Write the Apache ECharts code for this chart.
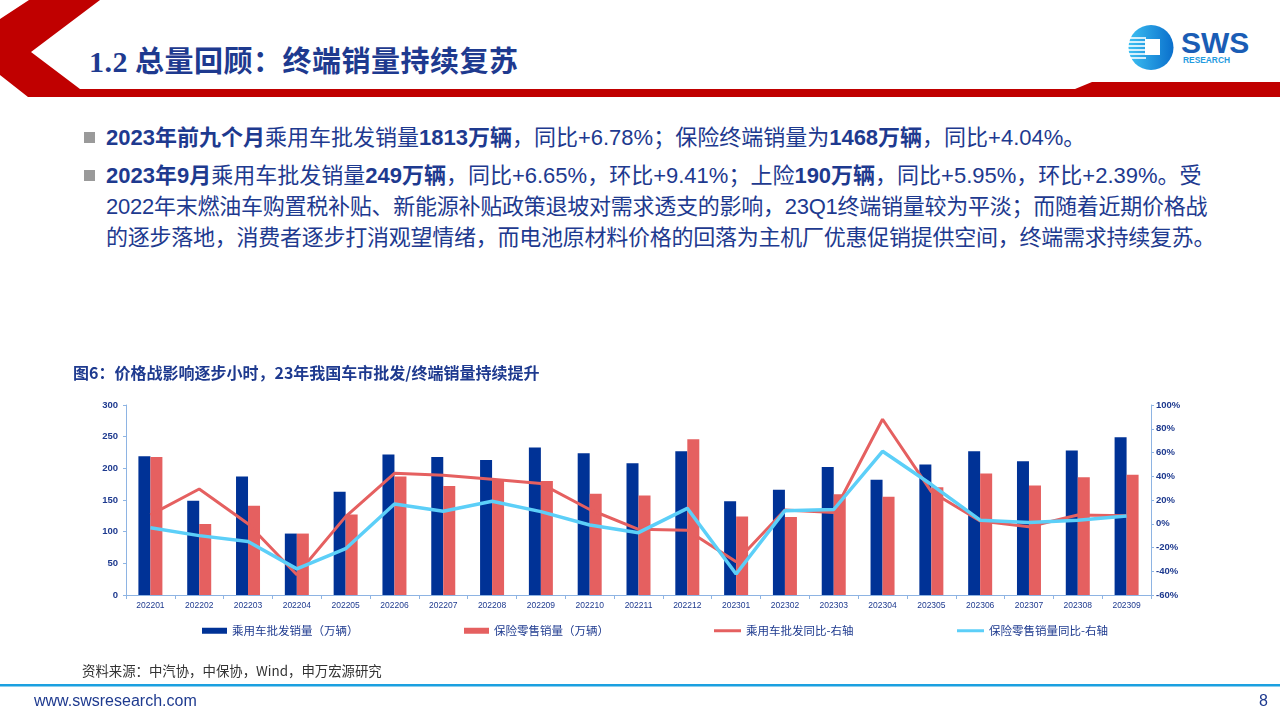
<!DOCTYPE html>
<html>
<head>
<meta charset="utf-8">
<script src="https://cdn.jsdelivr.net/npm/echarts@6/dist/echarts.min.js"></script>
<style>
  html, body { margin:0; padding:0; width:1280px; height:720px; overflow:hidden; background:#fff; }
  #deco { position:absolute; left:0; top:0; }
  #chart { position:absolute; left:0; top:0; width:1280px; height:720px; }
  .t { position:absolute; white-space:nowrap; color:#1e3a8f; font-family:"Noto Sans CJK SC","Noto Sans",sans-serif; }
  .title { left:89px; top:40px; font-size:29px; font-weight:bold; line-height:38px; letter-spacing:0.5px; }
  .title .num { font-family:"Liberation Serif","DejaVu Serif",serif; font-weight:bold; font-size:30px; }
  .p { left:106px; font-size:22px; line-height:31px; font-family:"Liberation Sans","Noto Sans CJK SC",sans-serif; }
  .p b { font-weight:bold; }
  .tight { letter-spacing:-0.25px; }
  .bullet { position:absolute; width:11px; height:11px; background:#9a9a9a; }
  .src { left:82px; top:660px; font-size:13.4px; line-height:20px; color:#333; }
  .url { left:34px; top:691px; font-size:16px; line-height:20px; font-family:"Liberation Sans",Arial,sans-serif; }
  .page { left:1259px; top:691px; font-size:16px; line-height:20px; font-family:"Liberation Sans",Arial,sans-serif; }
</style>
</head>
<body>
<svg id="deco" width="1280" height="720" xmlns="http://www.w3.org/2000/svg">
  <defs>
    <linearGradient id="lg" x1="0" y1="0" x2="1" y2="0">
      <stop offset="0" stop-color="#3cc0f2"/>
      <stop offset="1" stop-color="#0a6fcc"/>
    </linearGradient>
  </defs>
  <polygon fill="#c00000" points="29,0 100,0 31,52 80,89 1075,89 1092,82 1280,82 1280,97 28,97 0,75 0,19"/>
  <circle cx="1151" cy="47.5" r="22.5" fill="url(#lg)"/>
  <g stroke="#ffffff" stroke-width="1.6">
    <line x1="1128" y1="38" x2="1146" y2="38"/>
    <line x1="1128" y1="42" x2="1146" y2="42"/>
    <line x1="1128" y1="46" x2="1146" y2="46"/>
    <line x1="1128" y1="50" x2="1146" y2="50"/>
    <line x1="1128" y1="54" x2="1146" y2="54"/>
    <line x1="1130" y1="58" x2="1146" y2="58"/>
  </g>
  <rect x="1145" y="39" width="15" height="16" fill="#ffffff"/>
  <text x="1181" y="53" font-family="Liberation Sans, Arial, sans-serif" font-weight="bold" font-size="30" fill="#1a5db5">SWS</text>
  <text x="1183" y="63" font-family="Liberation Sans, Arial, sans-serif" font-weight="bold" font-size="8.4" fill="#1f9be0">RESEARCH</text>
  <rect x="0" y="684" width="1280" height="2.5" fill="#1ba0e0"/>
</svg>

<div class="t title"><span class="num">1.2</span> 总量回顾：终端销量持续复苏</div>

<div class="bullet" style="left:84px;top:132px;"></div>
<div class="t p" style="top:122px;"><b>2023年前九个月</b>乘用车批发销量<b>1813万辆</b>，同比+6.78%；保险终端销量为<b>1468万辆</b>，同比+4.04%。</div>
<div class="bullet" style="left:84px;top:170px;"></div>
<div class="t p" style="top:160px;"><b>2023年9月</b>乘用车批发销量<b>249万辆</b>，同比+6.65%，环比+9.41%；上险<b>190万辆</b>，同比+5.95%，环比+2.39%。受</div>
<div class="t p tight" style="top:191px;">2022年末燃油车购置税补贴、新能源补贴政策退坡对需求透支的影响，23Q1终端销量较为平淡；而随着近期价格战</div>
<div class="t p tight" style="top:222px;">的逐步落地，消费者逐步打消观望情绪，而电池原材料价格的回落为主机厂优惠促销提供空间，终端需求持续复苏。</div>

<div id="chart"></div>

<div class="t src">资料来源：中汽协，中保协，Wind，申万宏源研究</div>
<div class="t url">www.swsresearch.com</div>
<div class="t page">8</div>

<script>
// ---- data ----
const categories = ['202201','202202','202203','202204','202205','202206','202207','202208','202209','202210','202211','202212','202301','202302','202303','202304','202305','202306','202307','202308','202309'];
const wholesale = [219,149,187,97,163,222,218,213,233,224,208,227,148,166,202,182,206,227,211,228,249];
const insured   = [218,112,141,97,127,187,172,183,180,160,157,246,124,123,159,155,170,192,173,186,190];
const wholesaleYoY = [7.5,29.3,0,-43,6,42.5,40.8,37.4,33.8,12,-4.7,-5.5,-32,11.5,9.5,88,27,2.3,-2.5,7.4,6.7];
const insuredYoY   = [-3.3,-10,-15,-38,-21,16.6,10.5,19,10.2,-1,-7.5,13,-42.3,11,12,61,33,3,1,3,6.5];
const seriesNames = ['乘用车批发销量（万辆）','保险零售销量（万辆）','乘用车批发同比-右轴','保险零售销量同比-右轴'];
const chartTitle = '图6：价格战影响逐步小时，23年我国车市批发/终端销量持续提升';

const C_BLUE = '#003296', C_RED = '#e56060', C_CYAN = '#5ccff8', C_TXT = '#1e3a8f', C_AX = '#8eb4e3';
const chart = echarts.init(document.getElementById('chart'), null, {renderer:'canvas'});

function legendAt(left, name, isLine) {
  return {
    left: left, top: 620, data: [name], icon: 'rect',
    itemWidth: isLine ? 27 : 25, itemHeight: isLine ? 3 : 6, itemGap: 0,
    textStyle: { color: C_TXT, fontSize: 11.5, fontFamily: 'Noto Sans CJK SC' },
    selectedMode: false
  };
}

chart.setOption({
  animation: false,
  textStyle: { fontFamily: 'Liberation Sans, Noto Sans CJK SC, sans-serif' },
  title: {
    text: chartTitle, left: 68, top: 360,
    textStyle: { color: C_TXT, fontSize: 16, fontWeight: 'bold', fontFamily: 'Noto Sans CJK SC' }
  },
  legend: [
    legendAt(197, seriesNames[0], false),
    legendAt(459, seriesNames[1], false),
    legendAt(709, seriesNames[2], true),
    legendAt(952, seriesNames[3], true)
  ],
  grid: { left: 126, right: 129, top: 405, bottom: 125, containLabel: false },
  xAxis: {
    type: 'category', data: categories,
    axisLine: { lineStyle: { color: C_AX, width: 1 } },
    axisTick: { show: true, length: 4, lineStyle: { color: C_AX } },
    axisLabel: { color: C_TXT, fontSize: 8.5, margin: 6, interval: 0 }
  },
  yAxis: [
    {
      type: 'value', min: 0, max: 300, interval: 50,
      axisLine: { show: true, lineStyle: { color: C_AX } },
      axisTick: { show: true, length: 3, lineStyle: { color: C_AX } },
      axisLabel: { color: C_TXT, fontSize: 9.5, fontWeight: 'bold', margin: 8 },
      splitLine: { show: false }
    },
    {
      type: 'value', min: -60, max: 100, interval: 20, position: 'right',
      axisLine: { show: true, lineStyle: { color: C_AX } },
      axisTick: { show: true, length: 3, lineStyle: { color: C_AX } },
      axisLabel: { color: C_TXT, fontSize: 9.5, fontWeight: 'bold', margin: 5, formatter: v => v + '%' },
      splitLine: { show: false }
    }
  ],
  series: [
    { name: seriesNames[0], type: 'bar', data: wholesale, barWidth: 12, barGap: '0%', color: C_BLUE, itemStyle: { color: C_BLUE } },
    { name: seriesNames[1], type: 'bar', data: insured, barWidth: 12, barGap: '0%', color: C_RED, itemStyle: { color: C_RED } },
    { name: seriesNames[2], type: 'line', yAxisIndex: 1, data: wholesaleYoY, symbol: 'none', color: C_RED, lineStyle: { color: C_RED, width: 3 }, z: 3 },
    { name: seriesNames[3], type: 'line', yAxisIndex: 1, data: insuredYoY, symbol: 'none', color: C_CYAN, lineStyle: { color: C_CYAN, width: 3.5 }, z: 4 }
  ]
});
</script>
</body>
</html>
